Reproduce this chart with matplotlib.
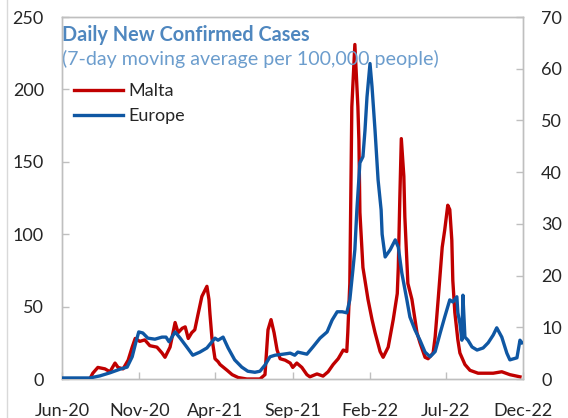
import matplotlib
matplotlib.use("Agg")
import matplotlib.pyplot as plt
import numpy as np
import pandas as pd
from matplotlib.lines import Line2D

plt.rcParams["font.family"] = ["Lato", "DejaVu Sans"]

# 7-day moving average of daily new cases per 100,000 people
malta_dates = [
    "2020-06-01", "2020-07-26", "2020-08-01", "2020-08-11", "2020-08-25", "2020-09-04",
    "2020-09-14", "2020-09-20", "2020-09-30", "2020-10-10", "2020-10-18", "2020-10-24",
    "2020-11-02", "2020-11-12", "2020-11-22", "2020-12-06", "2020-12-16", "2020-12-22",
    "2021-01-01", "2021-01-11", "2021-01-17", "2021-01-25", "2021-01-31", "2021-02-06",
    "2021-02-13", "2021-02-19", "2021-02-25", "2021-03-05", "2021-03-15", "2021-03-19",
    "2021-03-21", "2021-03-25", "2021-03-31", "2021-04-06", "2021-04-10", "2021-04-24",
    "2021-05-04", "2021-05-16", "2021-06-02", "2021-06-28", "2021-07-08", "2021-07-14",
    "2021-07-20", "2021-07-26", "2021-08-01", "2021-08-07", "2021-08-17", "2021-08-27",
    "2021-09-01", "2021-09-09", "2021-09-19", "2021-09-29", "2021-10-05", "2021-10-19",
    "2021-10-31", "2021-11-10", "2021-11-20", "2021-11-30", "2021-12-10", "2021-12-17",
    "2021-12-19", "2021-12-23", "2021-12-27", "2022-01-02", "2022-01-08", "2022-01-10",
    "2022-01-12", "2022-01-18", "2022-01-28", "2022-02-05", "2022-02-11", "2022-02-21",
    "2022-02-27", "2022-03-09", "2022-03-19", "2022-03-27", "2022-03-29", "2022-04-01",
    "2022-04-04", "2022-04-09", "2022-04-11", "2022-04-17", "2022-04-25", "2022-05-05",
    "2022-05-11", "2022-05-21", "2022-05-27", "2022-06-06", "2022-06-10", "2022-06-16",
    "2022-06-24", "2022-06-29", "2022-07-05", "2022-07-09", "2022-07-13", "2022-07-15",
    "2022-07-19", "2022-07-25", "2022-07-29", "2022-08-08", "2022-08-18", "2022-09-03",
    "2022-09-23", "2022-10-03", "2022-10-20", "2022-11-05", "2022-11-25",
]
malta_cases = [
    0, 0, 4, 8, 7, 5,
    11, 8, 7, 13, 22, 28,
    26, 27, 23, 22, 18, 15,
    22, 39, 32, 35, 36, 28,
    32, 34, 44, 57, 64, 55,
    45, 28, 14, 12, 10, 6,
    3, 1, 0, 0, 3, 34,
    41, 32, 20, 14, 13, 11,
    8, 11, 8, 3, 1.5, 3.5,
    2, 5, 10, 14, 20, 19,
    32, 66, 188, 231, 188, 165,
    115, 77, 55, 41, 32, 19,
    15, 22, 41, 59, 77, 124,
    166, 140, 112, 66, 55, 32,
    25, 15, 14, 18, 29, 55,
    91, 103, 120, 117, 96, 68,
    46, 27, 18, 10, 6, 4,
    4, 4, 5, 3, 1.5,
]

europe_dates = [
    "2020-06-01", "2020-07-26", "2020-08-15", "2020-09-04", "2020-09-24", "2020-10-08",
    "2020-10-18", "2020-10-25", "2020-10-31", "2020-11-08", "2020-11-18", "2020-12-02",
    "2020-12-16", "2020-12-24", "2020-12-30", "2021-01-11", "2021-01-21", "2021-02-03",
    "2021-02-15", "2021-03-01", "2021-03-15", "2021-03-25", "2021-03-31", "2021-04-06",
    "2021-04-16", "2021-04-26", "2021-05-09", "2021-05-23", "2021-06-04", "2021-06-18",
    "2021-06-28", "2021-07-08", "2021-07-18", "2021-07-28", "2021-08-13", "2021-08-27",
    "2021-09-05", "2021-09-11", "2021-09-29", "2021-10-11", "2021-10-25", "2021-11-08",
    "2021-11-18", "2021-11-28", "2021-12-08", "2021-12-17", "2021-12-23", "2021-12-29",
    "2022-01-02", "2022-01-06", "2022-01-12", "2022-01-18", "2022-01-22", "2022-01-26",
    "2022-02-01", "2022-02-05", "2022-02-11", "2022-02-17", "2022-02-23", "2022-02-25",
    "2022-03-03", "2022-03-13", "2022-03-23", "2022-03-29", "2022-04-05", "2022-04-15",
    "2022-04-21", "2022-05-01", "2022-05-11", "2022-05-21", "2022-05-31", "2022-06-10",
    "2022-06-20", "2022-06-29", "2022-07-09", "2022-07-15", "2022-07-23", "2022-07-25",
    "2022-07-29", "2022-08-02", "2022-08-04", "2022-08-08", "2022-08-14", "2022-08-22",
    "2022-09-01", "2022-09-13", "2022-09-23", "2022-10-03", "2022-10-10", "2022-10-20",
    "2022-10-30", "2022-11-05", "2022-11-19", "2022-11-25", "2022-11-29",
]
europe_cases = [
    0.2, 0.2, 0.6, 1.2, 1.9, 2.3,
    4.3, 7.0, 9.1, 8.9, 7.9, 7.7,
    8.1, 8.1, 7.2, 9.1, 7.9, 6.2,
    4.6, 5.2, 6.0, 7.2, 7.9, 7.5,
    8.1, 6.0, 3.7, 2.3, 1.5, 1.3,
    1.5, 2.7, 4.3, 4.6, 4.8, 5.0,
    4.6, 5.2, 4.8, 6.2, 7.9, 9.1,
    11.4, 13.0, 13.0, 12.8, 15.3, 21.0,
    25.0, 32.7, 41.8, 43.0, 48.0, 54.5,
    61.0, 56.5, 48.0, 38.5, 32.7, 28.0,
    23.6, 25.0, 26.9, 25.5, 20.5, 15.3,
    12.0, 9.5, 7.5, 5.2, 4.3, 5.3,
    8.9, 12.0, 15.3, 14.9, 15.9, 12.8,
    10.8, 7.5, 16.2, 8.1, 7.5, 6.2,
    5.6, 6.0, 7.0, 8.5, 9.9, 8.1,
    5.0, 3.7, 4.1, 7.5, 7.0,
]

tick_dates = ["2020-06-01", "2020-11-01", "2021-04-01", "2021-09-01",
              "2022-02-01", "2022-07-01", "2022-12-01"]
tick_labels = ["Jun-20", "Nov-20", "Apr-21", "Sep-21", "Feb-22", "Jul-22", "Dec-22"]

RED = "#C00000"
BLUE = "#0F57A3"
GRID = "#BFBFBF"
TEXT = "#262626"

fig = plt.figure(figsize=(5.68, 4.18), dpi=100)
ax = fig.add_axes([62 / 568, 39 / 418, 461 / 568, 362 / 418])
ax2 = ax.twinx()

ax.plot(pd.to_datetime(malta_dates), malta_cases, color=RED, lw=2.4, zorder=3)
ax2.plot(pd.to_datetime(europe_dates), europe_cases, color=BLUE, lw=2.4, zorder=3)

ax.set_xlim(pd.Timestamp("2020-06-01"), pd.Timestamp("2022-12-01"))
ax.set_ylim(0, 250)
ax2.set_ylim(0, 70)
ax.set_yticks(np.arange(0, 251, 50))
ax2.set_yticks(np.arange(0, 71, 10))
ax.set_xticks(pd.to_datetime(tick_dates))
ax.set_xticklabels(tick_labels)

for a in (ax, ax2):
    for side in a.spines.values():
        side.set_color(GRID)
        side.set_linewidth(1.0)
    a.tick_params(direction="in", length=5, width=1.0, color=GRID,
                  labelsize=13, labelcolor=TEXT)
ax.tick_params(axis="y", pad=13)
ax2.tick_params(axis="y", pad=13)
ax.tick_params(axis="x", pad=17)

ax.text(0.0, 0.978, "Daily New Confirmed Cases", transform=ax.transAxes,
        ha="left", va="top", fontsize=14.3, fontweight="bold", color="#4F87BF")
ax.text(0.0, 0.91, "(7-day moving average per 100,000 people)", transform=ax.transAxes,
        ha="left", va="top", fontsize=14.1, color="#6C9DCD")

handles = [Line2D([], [], color=RED, lw=2.4), Line2D([], [], color=BLUE, lw=2.4)]
ax2.legend(handles, ["Malta", "Europe"], loc="upper left", bbox_to_anchor=(0.026, 0.818),
           frameon=False, fontsize=13, handlelength=2.7, handletextpad=0.3,
           labelspacing=0.5, borderaxespad=0.0, borderpad=0.0, labelcolor=TEXT)

fig.add_artist(Line2D([7 / 568, 7 / 568], [0, 1], color="#D9D9D9", lw=1.0))

fig.savefig("out.png", dpi=100)
